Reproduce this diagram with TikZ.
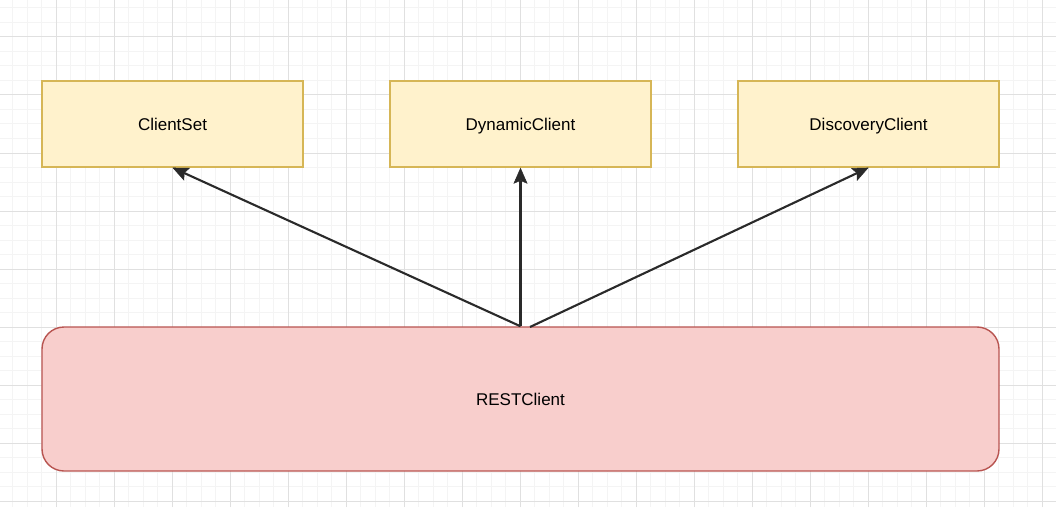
\documentclass[tikz,border=0pt]{standalone}
\usepackage{fontspec}
\setmainfont{Liberation Sans}
\usetikzlibrary{arrows.meta}
\definecolor{yfill}{HTML}{FFF2CC}
\definecolor{ystroke}{HTML}{D6B656}
\definecolor{rfill}{HTML}{F8CECC}
\definecolor{rstroke}{HTML}{B85450}
\definecolor{minorgrid}{HTML}{F4F4F4}
\definecolor{majorgrid}{HTML}{E0E0E0}
\definecolor{arrcol}{HTML}{2A2A2A}
\tikzset{
  lbl/.style={font=\fontsize{17}{20}\selectfont, text height=14.5pt, text depth=1.5pt},
  ybox/.style={lbl, draw=ystroke, fill=yfill, line width=1.4pt, minimum width=261pt, minimum height=86pt, inner sep=0pt},
  rbox/.style={lbl, draw=rstroke, fill=rfill, line width=1.4pt, rounded corners=22pt, minimum width=957pt, minimum height=144pt, inner sep=0pt},
  arr/.style={draw=arrcol, line width=2.1pt, -{Stealth[length=16pt, width=14pt, inset=3pt, line width=0.5pt]}}
}
\begin{document}
\begin{tikzpicture}[x=1pt, y=1pt]
\useasboundingbox (0,0) rectangle (1056,507);
\fill[white] (0,0) rectangle (1056,507);
\foreach \i in {0,...,73} {
  \draw[minorgrid, line width=1pt] ({-2+14.5*\i},0) -- ({-2+14.5*\i},507);
}
\foreach \i in {0,...,35} {
  \draw[minorgrid, line width=1pt] (0,{6+14.5*\i}) -- (1056,{6+14.5*\i});
}
\foreach \i in {0,...,18} {
  \draw[majorgrid, line width=1pt] ({-2+58*\i},0) -- ({-2+58*\i},507);
}
\foreach \i in {0,...,8} {
  \draw[majorgrid, line width=1pt] (0,{6+58*\i}) -- (1056,{6+58*\i});
}
\node[ybox] (cs) at (172.5,383) {ClientSet};
\node[ybox] (dyn) at (520.5,383) {DynamicClient};
\node[ybox] (disc) at (868.5,383) {DiscoveryClient};
\node[rbox] (rest) at (520.5,108) {RESTClient};
\coordinate (restR) at (530,180);
\draw[arr] (rest.north) -- (cs.south);
\draw[arr] (rest.north) -- (dyn.south);
\draw[arr] (restR) -- (disc.south);
\end{tikzpicture}
\end{document}
